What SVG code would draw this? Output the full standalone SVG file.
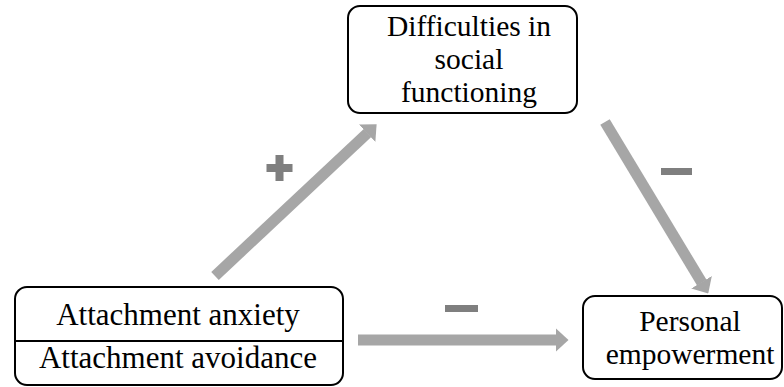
<svg xmlns="http://www.w3.org/2000/svg" width="784" height="387" viewBox="0 0 784 387">
  <style>
    .box { fill: #ffffff; stroke: #000000; stroke-width: 2; }
    .lbl { font-family: "Liberation Serif", "Times New Roman", serif; font-size: 29.5px; fill: #000000; text-anchor: middle; }
    .big { font-size: 31px; }
    .conn { stroke: #a6a6a6; stroke-width: 11; fill: none; }
    .sign { fill: #7f7f7f; }
  </style>
  <defs>
    <marker id="head" markerUnits="userSpaceOnUse" markerWidth="13" markerHeight="24" viewBox="0 0 13 24" refX="0.5" refY="12" orient="auto">
      <path d="M0,0 L13,12 L0,24 Z" fill="#a6a6a6"/>
    </marker>
  </defs>
  <rect width="784" height="387" fill="#ffffff"/>

  <g id="connectors">
    <line class="conn" x1="215" y1="276" x2="367.5" y2="132.9" marker-end="url(#head)"/>
    <line class="conn" x1="605" y1="122" x2="701.8" y2="282.7" marker-end="url(#head)"/>
    <line class="conn" x1="358" y1="340" x2="556" y2="340" marker-end="url(#head)"/>
  </g>

  <g id="signs">
    <path class="sign" d="M275.5,155 h8 v9 h9 v8 h-9 v9 h-8 v-9 h-9 v-8 h9 Z"/>
    <rect class="sign" x="661" y="168" width="31" height="7"/>
    <rect class="sign" x="445" y="305" width="33" height="7"/>
  </g>

  <g id="node-difficulties">
    <rect class="box" x="348" y="6" width="229" height="107" rx="12" ry="12"/>
    <text class="lbl" x="469" y="36">Difficulties in</text>
    <text class="lbl" x="469" y="69">social</text>
    <text class="lbl" x="469" y="102">functioning</text>
  </g>

  <g id="node-attachment">
    <rect class="box" x="15" y="287" width="328" height="98" rx="12" ry="12"/>
    <line x1="15" y1="341" x2="343" y2="341" stroke="#000000" stroke-width="2"/>
    <text class="lbl big" x="178" y="325">Attachment anxiety</text>
    <text class="lbl big" x="178" y="368">Attachment avoidance</text>
  </g>

  <g id="node-empowerment">
    <rect class="box" x="583" y="296" width="199" height="83" rx="12" ry="12"/>
    <text class="lbl" x="690" y="331">Personal</text>
    <text class="lbl" x="690" y="364">empowerment</text>
  </g>
</svg>
